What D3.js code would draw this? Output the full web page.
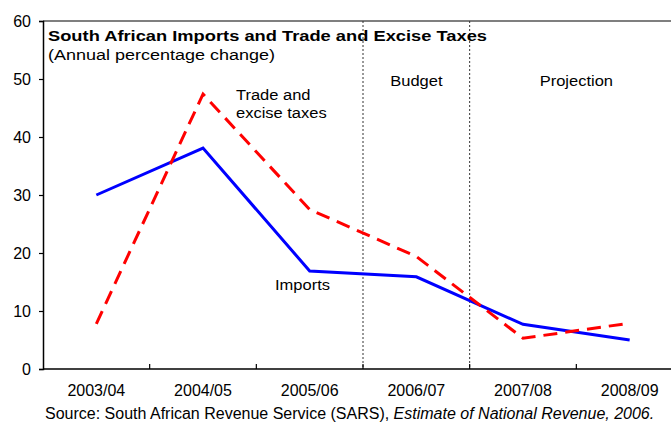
<!DOCTYPE html>
<html>
<head>
<meta charset="utf-8">
<script src="https://cdn.jsdelivr.net/npm/d3@7"></script>
<style>
  html, body { margin: 0; padding: 0; background: #fff; }
  svg { display: block; font-family: "Liberation Sans", Arial, sans-serif; }
</style>
</head>
<body>
<svg id="chart" width="671" height="423"></svg>
<script>
// Fiscal years on the horizontal axis
const years = ["2003/04", "2004/05", "2005/06", "2006/07", "2007/08", "2008/09"];
// Annual percentage change
const imports = [30, 38.1, 16.9, 15.9, 7.7, 5.0];
const tradeExcise = [7.8, 47.4, 27.5, 19.4, 5.3, 7.9];
const yTicks = [0, 10, 20, 30, 40, 50, 60];
// Period boundaries (between 2005/06 | 2006/07 and 2006/07 | 2007/08)
const periodBreaks = ["2006/07", "2007/08"];
const periodLabels = [{ text: "Budget", year: "2006/07" }, { text: "Projection", year: "2007/08", shift: 0.5 }];

const svg = d3.select("#chart");
const plotLeft = 43, plotRight = 683, plotTop = 21, plotBottom = 369;
const FONT = "Liberation Sans, Arial, sans-serif";

const x = d3.scaleBand().domain(years).range([plotLeft, plotRight]).paddingInner(0).paddingOuter(0);
const y = d3.scaleLinear().domain([0, 60]).range([plotBottom, plotTop]);
const cx = d => x(d) + x.bandwidth() / 2;

// text with a slightly widened face
function label(px, py, str, size, sx, anchor, weight) {
  return svg.append("text")
    .attr("transform", `translate(${px},${py}) scale(${sx},1)`)
    .attr("text-anchor", anchor || "start")
    .attr("font-size", size)
    .attr("font-weight", weight || "normal")
    .attr("font-family", FONT)
    .attr("fill", "#000")
    .text(str);
}

// top frame line
svg.append("line")
  .attr("x1", plotLeft).attr("x2", 671).attr("y1", y(60)).attr("y2", y(60))
  .attr("stroke", "#555").attr("stroke-width", 1.5);

// period separators
svg.selectAll("line.sep").data(periodBreaks).join("line")
  .attr("class", "sep")
  .attr("x1", d => x(d)).attr("x2", d => x(d))
  .attr("y1", y(60)).attr("y2", y(0))
  .attr("stroke", "#333").attr("stroke-width", 1).attr("stroke-dasharray", "2,2");

// y axis
const yAxis = svg.append("g").attr("transform", `translate(${plotLeft},0)`)
  .call(d3.axisLeft(y).tickValues(yTicks).tickSize(4).tickPadding(8).tickFormat(d3.format("d")));
yAxis.select(".domain").attr("stroke", "#000").attr("stroke-width", 1.5);
yAxis.selectAll(".tick line").attr("stroke", "#000").attr("stroke-width", 1.2);
yAxis.selectAll("text").attr("font-size", 16).attr("fill", "#000").attr("font-family", FONT);

// x axis: labels centred in bands, ticks at band edges
const xAxis = svg.append("g").attr("transform", `translate(0,${plotBottom})`)
  .call(d3.axisBottom(x).tickSize(0).tickPadding(16));
xAxis.select(".domain").remove();
xAxis.selectAll("text").attr("font-size", 16).attr("fill", "#000").attr("font-family", FONT);
svg.append("line")
  .attr("x1", plotLeft).attr("x2", 671).attr("y1", plotBottom).attr("y2", plotBottom)
  .attr("stroke", "#000").attr("stroke-width", 1.5);
svg.selectAll("line.xtick").data(years.slice(1)).join("line")
  .attr("class", "xtick")
  .attr("x1", d => x(d)).attr("x2", d => x(d))
  .attr("y1", plotBottom).attr("y2", plotBottom - 5)
  .attr("stroke", "#000").attr("stroke-width", 1.2);

// series lines
const line = d3.line().x((d, i) => cx(years[i])).y(d => y(d));
svg.append("path").datum(imports)
  .attr("d", line).attr("fill", "none")
  .attr("stroke", "#0000ff").attr("stroke-width", 3).attr("stroke-linejoin", "miter");
svg.append("path").datum(tradeExcise)
  .attr("d", line).attr("fill", "none")
  .attr("stroke", "#ff0000").attr("stroke-width", 3).attr("stroke-dasharray", "14,8");

// titles
label(48, 41, "South African Imports and Trade and Excise Taxes", 15, 1.22, "start", "bold");
label(48, 60, "(Annual percentage change)", 15, 1.2);

// period labels
periodLabels.forEach(d => {
  label(cx(d.year) + (d.shift || 0) * x.bandwidth(), 86, d.text, 15, 1.1, "middle");
});

// series labels
label(236, 100, "Trade and", 15, 1.1);
label(236, 118, "excise taxes", 15, 1.1);
label(275, 290, "Imports", 15, 1.1);

// source note
const src = svg.append("text").attr("x", 45).attr("y", 419)
  .attr("font-size", 16).attr("font-family", FONT).attr("fill", "#000");
src.append("tspan").text("Source: South African Revenue Service (SARS), ");
src.append("tspan").attr("font-style", "italic").text("Estimate of National Revenue, 2006.");
</script>
</body>
</html>
